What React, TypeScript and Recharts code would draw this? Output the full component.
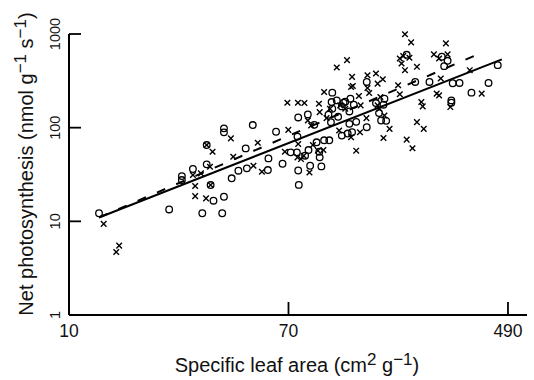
import React from 'react';
import { ScatterChart, Scatter, XAxis, YAxis, Label } from 'recharts';

const xTicks = [10, 70, 490];
const yTicks = [1, 10, 100, 1000];

// open circles: [specific leaf area, net photosynthesis]
const circlePoints: [number, number][] = [
  [13.05, 12.2], [24.3, 13.4], [27.2, 30.4], [27.2, 27.6], [30.0, 36.2], [33.9, 40.6],
  [33.9, 65.2], [35.1, 24.4], [36.0, 16.6], [39.5, 18.3], [32.6, 12.2], [38.9, 12.2],
  [39.5, 98.3], [39.5, 89.1], [42.3, 28.8], [44.9, 34.7], [48.4, 36.8], [47.9, 60.1],
  [51.0, 106.6], [58.3, 35.3], [58.6, 47.0], [62.7, 90.4],
  [66.4, 41.2], [71.4, 54.5], [75.4, 54.5], [75.8, 80.3], [76.3, 128.5], [76.3, 34.9],
  [76.7, 24.5], [81.1, 50.2], [83.1, 138.4], [84.8, 39.2], [88.0, 107.2], [89.8, 69.8],
  [92.3, 48.2], [93.7, 38.6], [96.0, 73.3], [100.5, 73.3], [99.8, 137.3], [102.0, 114.5],
  [102.6, 187.7], [103.2, 236.5], [107.4, 195.6], [103.2, 159.2], [108.7, 130.6],
  [112.3, 82.3], [114.1, 184.6], [118.3, 86.5], [120.1, 109.9], [120.1, 149.0],
  [121.2, 203.9], [123.0, 89.4], [127.6, 115.4], [140.1, 101.2], [140.1, 307.8],
  [152.0, 183.1], [156.2, 143.0], [159.1, 119.3], [166.4, 118.3], [162.5, 175.8],
  [163.9, 203.9], [199.6, 600.0], [215.3, 307.8], [244.3, 307.8], [272.5, 571.5],
  [278.3, 453.6], [286.9, 517.5], [296.6, 195.6], [296.6, 184.6], [300.2, 297.9],
  [318.9, 300.3], [354.5, 236.5], [412.4, 300.3], [447.5, 465.0], [83.6, 57.7],
  [92.0, 55.4], [112.3, 168.7], [115.8, 189.3], [124.9, 175.8],
];

// crosses: [specific leaf area, net photosynthesis]
const crossPoints: [number, number][] = [
  [13.6, 9.4], [15.2, 4.7], [15.6, 5.5], [30.0, 31.2], [32.2, 32.5], [30.6, 23.8],
  [30.6, 18.6], [33.7, 17.6], [34.9, 38.2], [33.9, 65.2], [35.7, 55.3], [35.1, 24.4],
  [42.0, 76.9], [42.9, 48.9], [51.3, 39.2], [55.3, 33.8], [53.3, 69.0],
  [69.3, 184.6], [76.1, 184.6], [80.6, 183.1], [69.9, 94.7], [76.3, 67.0], [67.8, 55.4],
  [75.8, 48.2], [80.1, 50.2], [84.3, 33.2], [83.1, 119.3], [85.6, 105.4], [91.7, 180.1],
  [92.3, 146.6], [90.9, 56.8], [96.0, 240.4], [98.1, 126.4], [101.1, 159.2],
  [107.4, 438.8], [110.7, 172.9], [109.7, 93.2], [117.6, 526.1], [123.0, 348.5],
  [121.9, 272.0], [123.8, 278.9], [115.8, 159.2], [121.9, 79.0], [127.6, 56.8],
  [130.7, 217.8], [132.7, 172.9], [131.9, 89.4], [139.7, 126.4], [141.0, 363.1],
  [141.0, 265.4], [143.1, 234.5], [152.0, 378.4], [154.3, 295.4], [154.3, 172.9],
  [158.1, 212.5], [161.5, 328.9], [156.7, 159.2], [163.9, 135.0], [162.5, 77.7],
  [171.5, 97.1], [196.6, 992.6], [207.6, 814.5], [187.8, 548.3], [190.7, 484.5],
  [193.6, 581.8], [196.6, 411.0], [204.5, 557.5], [218.6, 446.2], [185.0, 283.5],
  [187.8, 227.0], [199.6, 74.6], [210.1, 60.2], [218.6, 114.5], [232.2, 97.1],
  [227.3, 187.7], [230.1, 168.7], [254.1, 606.1], [266.0, 548.3], [282.6, 794.6],
  [286.9, 606.1], [260.4, 230.7], [266.0, 221.4], [270.0, 334.4], [293.9, 165.9],
  [349.1, 411.0], [388.2, 230.7], [86.9, 65.4], [78.2, 46.2], [95.4, 57.7],
];

// fitted lines (end points)
const solidFit: [number, number][] = [[13.05, 11.0], [464, 536]];
const dashedFit: [number, number][] = [[13.05, 11.0], [385, 625]];

const toXY = (pts: [number, number][]) => pts.map(([x, y]) => ({ x, y }));

const FONT = '"Liberation Sans", Arial, Helvetica, sans-serif';

const XTick = ({ x, y, payload }: any) => (
  <g>
    <line x1={x} y1={y} x2={x} y2={y - 13} stroke="#000" strokeWidth={1.8} />
    <text x={x} y={y + 22} textAnchor="middle" fontSize={17.5} fontFamily={FONT} fill="#111">
      {payload.value}
    </text>
  </g>
);

const YTick = ({ x, y, payload }: any) => (
  <g>
    <line x1={x} y1={y} x2={x + 12} y2={y} stroke="#000" strokeWidth={1.8} />
    <text
      x={x - 9}
      y={y}
      transform={`rotate(-90 ${x - 9} ${y})`}
      textAnchor="middle"
      fontSize={14.5}
      fontFamily={FONT}
      fill="#111"
    >
      {payload.value}
    </text>
  </g>
);

const OpenCircle = ({ cx, cy }: any) => (
  <circle cx={cx} cy={cy} r={3.3} fill="none" stroke="#000" strokeWidth={1.3} />
);

const Cross = ({ cx, cy }: any) => {
  const s = 2.8;
  return (
    <path
      d={`M${cx - s},${cy - s}L${cx + s},${cy + s}M${cx - s},${cy + s}L${cx + s},${cy - s}`}
      stroke="#000"
      strokeWidth={1.4}
      fill="none"
    />
  );
};

const NoDot = () => <g />;

const App = () => {
  return (
    <div style={{ position: 'absolute', left: 0, top: 0, background: '#fff' }}>
      <ScatterChart width={534} height={380} margin={{ top: 34, right: 7, bottom: 15, left: 9 }}>
        <XAxis
          type="number"
          dataKey="x"
          scale="log"
          domain={[10, 580]}
          ticks={xTicks}
          interval={0}
          height={50}
          tickSize={0}
          tickMargin={0}
          tickLine={false}
          axisLine={{ stroke: '#000', strokeWidth: 2 }}
          tick={<XTick />}
        >
          <Label
            content={() => (
              <text x={297} y={372} textAnchor="middle" fontSize={20} fontFamily={FONT} fill="#111">
                Specific leaf area (cm
                <tspan dy={-7} fontSize={17}>2</tspan>
                <tspan dy={7}> g</tspan>
                <tspan dy={-7} fontSize={17}>−1</tspan>
                <tspan dy={7}>)</tspan>
              </text>
            )}
          />
        </XAxis>
        <YAxis
          type="number"
          dataKey="y"
          scale="log"
          domain={[1, 1000]}
          ticks={yTicks}
          interval={0}
          width={60}
          tickSize={0}
          tickMargin={0}
          tickLine={false}
          axisLine={{ stroke: '#000', strokeWidth: 2 }}
          tick={<YTick />}
        >
          <Label
            content={() => (
              <text
                x={33}
                y={164}
                transform="rotate(-90 33 164)"
                textAnchor="middle"
                fontSize={20}
                fontFamily={FONT}
                fill="#111"
              >
                Net photosynthesis (nmol g
                <tspan dy={-7} fontSize={17}>−1</tspan>
                <tspan dy={7}> s</tspan>
                <tspan dy={-7} fontSize={17}>−1</tspan>
                <tspan dy={7}>)</tspan>
              </text>
            )}
          />
        </YAxis>
        <Scatter data={toXY(circlePoints)} shape={<OpenCircle />} isAnimationActive={false} />
        <Scatter data={toXY(crossPoints)} shape={<Cross />} isAnimationActive={false} />
        <Scatter
          data={toXY(solidFit)}
          shape={<NoDot />}
          line={{ stroke: '#000', strokeWidth: 2 }}
          isAnimationActive={false}
        />
        <Scatter
          data={toXY(dashedFit)}
          shape={<NoDot />}
          line={{ stroke: '#000', strokeWidth: 2, strokeDasharray: '9 12' }}
          isAnimationActive={false}
        />
      </ScatterChart>
    </div>
  );
};

export default App;
